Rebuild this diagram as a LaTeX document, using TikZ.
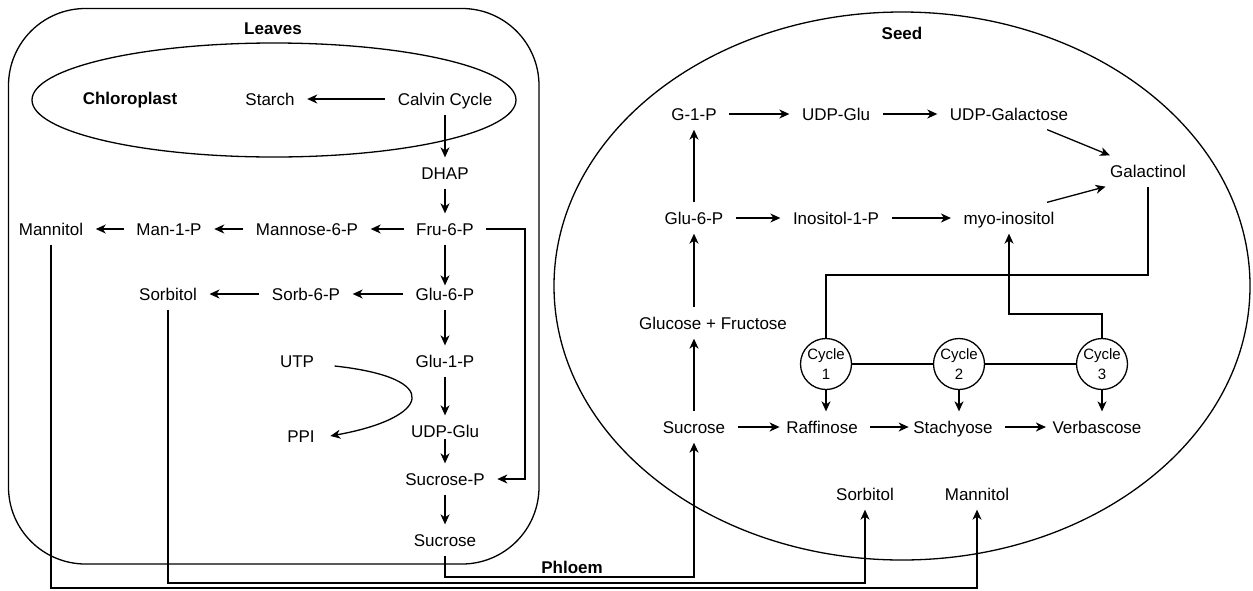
\documentclass[tikz,border=0pt]{standalone}
\usepackage{fontspec}
\setmainfont{Liberation Sans}
\usetikzlibrary{arrows.meta}
\begin{document}
\begin{tikzpicture}[x=1pt,y=-1pt,line width=1.3pt,
  txt/.style={font=\fontsize{17}{20}\selectfont,inner xsep=12pt,inner ysep=9pt,text height=12pt,text depth=0pt},
  ttl/.style={font=\fontsize{17}{20}\selectfont\bfseries},
  cyc/.style={draw,circle,minimum size=51pt,inner sep=0pt,align=center,font=\fontsize{15}{20}\selectfont},
  arr/.style={-{Stealth[length=10pt,width=9pt,inset=3pt]}}]
\useasboundingbox (0,0) rectangle (1253,590);
\draw[rounded corners=77pt] (8.5,8.5) rectangle (539,564);
\draw (274,100) ellipse [x radius=242pt, y radius=57pt];
\draw (902,286) ellipse [x radius=348pt, y radius=274pt];
\node[ttl] (leaves) at (273,29) {Leaves};
\node[ttl] (chloro) at (130,100) {Chloroplast};
\node[ttl] (seed) at (902,33) {Seed};
\node[ttl] (phloem) at (572,567) {Phloem};
\node[txt] (calvin) at (445,99) {Calvin Cycle};
\node[txt] (starch) at (270,99) {Starch};
\node[txt] (dhap) at (445,173) {DHAP};
\node[txt] (fru) at (445,229) {Fru-6-P};
\node[txt] (mann6p) at (307,229) {Mannose-6-P};
\node[txt] (man1p) at (169,229) {Man-1-P};
\node[txt] (lmann) at (51,229) {Mannitol};
\node[txt] (lglu6) at (445,294) {Glu-6-P};
\node[txt] (sorb6p) at (306,294) {Sorb-6-P};
\node[txt] (lsorb) at (168,294) {Sorbitol};
\node[txt] (utp) at (297,361) {UTP};
\node[txt] (glu1) at (445,361) {Glu-1-P};
\node[txt] (ppi) at (301,436) {PPI};
\node[txt] (ludp) at (445,431) {UDP-Glu};
\node[txt] (sucp) at (445,479) {Sucrose-P};
\node[txt] (lsuc) at (445,540) {Sucrose};
\node[txt] (g1p) at (694,114) {G-1-P};
\node[txt] (sudp) at (836,114) {UDP-Glu};
\node[txt] (udpgal) at (1009,114) {UDP-Galactose};
\node[txt] (galac) at (1148,171) {Galactinol};
\node[txt] (sglu6) at (694,218) {Glu-6-P};
\node[txt] (ino1p) at (836,218) {Inositol-1-P};
\node[txt] (myo) at (1009,218) {myo-inositol};
\node[txt] (gf) at (713,323) {Glucose + Fructose};
\node[txt] (ssuc) at (694,427) {Sucrose};
\node[txt] (raff) at (822,427) {Raffinose};
\node[txt] (stach) at (953,427) {Stachyose};
\node[txt] (verb) at (1097,427) {Verbascose};
\node[cyc] (cyc1) at (826,364) {Cycle\\1};
\node[cyc] (cyc2) at (959,364) {Cycle\\2};
\node[cyc] (cyc3) at (1102,364) {Cycle\\3};
\node[txt] (ssorb) at (865,494) {Sorbitol};
\node[txt] (smann) at (977,494) {Mannitol};
\coordinate (frubend) at (525,229);
\coordinate (galbend) at (1148,275);
\coordinate (myobend) at (1102,314);
\coordinate (sucbus) at (0,577);
\coordinate (sorbbus) at (0,583);
\coordinate (mannbus) at (0,588);
\draw[arr] (calvin) -- (starch);
\draw[arr] (calvin) -- (dhap);
\draw[arr] (dhap) -- (fru);
\draw[arr] (fru) -- (mann6p);
\draw[arr] (mann6p) -- (man1p);
\draw[arr] (man1p) -- (lmann);
\draw[arr,shorten >=-7pt] (fru) -- (lglu6);
\draw[arr] (lglu6) -- (sorb6p);
\draw[arr] (sorb6p) -- (lsorb);
\draw[arr] (lglu6) -- (glu1);
\draw[arr] (glu1) -- (ludp);
\draw[arr] ([yshift=8pt]ludp.south) -- (sucp);
\draw[arr] (sucp) -- (lsuc);
\draw[arr] (fru.east) -- (frubend) |- (sucp.east);
\draw[arr] ([xshift=8pt,yshift=-5pt]utp.east) .. controls (445,378) and (430,418) .. ([xshift=3pt]ppi.east);
\draw[arr] (lsuc.south) |- (sucbus -| ssuc.south) -- (ssuc.south);
\draw[arr] (lsorb.south) |- (sorbbus -| ssorb.south) -- (ssorb.south);
\draw[arr] (lmann.south) |- (mannbus -| smann.south) -- (smann.south);
\draw[arr] (ssuc.north) -- (ssuc.north |- gf.south);
\draw[arr] (sglu6.south |- gf.north) -- (sglu6.south);
\draw[arr] (sglu6) -- (g1p);
\draw[arr] (g1p) -- (sudp);
\draw[arr] (sudp) -- (udpgal);
\draw[arr] (udpgal) -- (galac);
\draw[arr] (sglu6) -- (ino1p);
\draw[arr] (ino1p) -- (myo);
\draw[arr] ([xshift=-20pt]myo.north east) -- ([xshift=8pt]galac.south west);
\draw[arr,shorten >=-6pt] (ssuc) -- (raff);
\draw[arr,shorten >=-8pt] (raff) -- (stach);
\draw[arr,shorten >=-6pt] (stach) -- (verb);
\draw (galac.south) -- (galbend) -| (cyc1.north);
\draw[arr] (cyc3.north) -- (myobend) -| (myo.south);
\draw (cyc1) -- (cyc2);
\draw (cyc2) -- (cyc3);
\draw[arr] (cyc1.south) -- (cyc1.south |- raff.north);
\draw[arr] (cyc2.south) -- (cyc2.south |- stach.north);
\draw[arr] (cyc3.south) -- (cyc3.south |- verb.north);
\end{tikzpicture}
\end{document}
